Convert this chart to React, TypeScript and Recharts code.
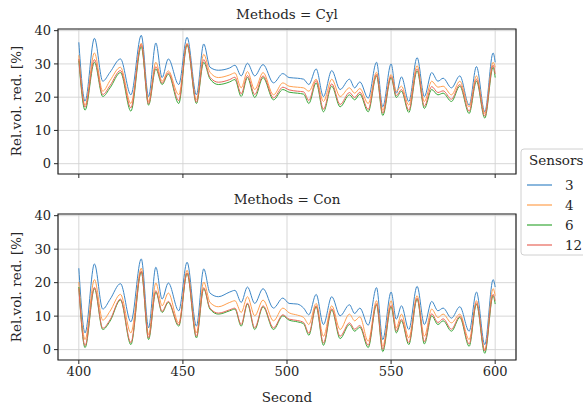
import { CartesianGrid, Line, LineChart, ReferenceArea, XAxis, YAxis } from "recharts";

const FONT = "'DejaVu Serif', 'Liberation Serif', serif";
const INK = "#262626";

const seconds = [
  400, 403, 407.5, 411.5, 415, 420, 425, 430, 433.5, 437, 440, 443, 448, 452, 456.5, 460, 463, 467,
  472.5, 475, 478, 481, 484.5, 488.5, 493.5, 498, 501, 505, 508, 510.5, 514, 517.5, 521.5, 525.5,
  530, 532.5, 535, 539, 543, 546, 550, 552.5, 555, 558.5, 562.5, 566, 569.5, 572.5, 575, 579, 583,
  587.5, 591, 595, 599, 600,
];

// Methods = Cyl
const cyl3 = [
  36.5, 18.8, 37.7, 24.8, 27.5, 31.5, 20.7, 38.6, 20.2, 36.3, 25.9, 31.5, 23.8, 38, 20.7, 36, 29,
  28.1, 28.8, 29.6, 26.4, 30.2, 26.4, 29.8, 24.3, 27.1, 25.9, 25.7, 25.4, 23.8, 28.5, 20.2, 28, 22.3,
  25.4, 22.8, 24.6, 19.7, 30.5, 17.1, 30, 21.2, 26.1, 18.7, 31.9, 20.2, 27.4, 24.8, 25.7, 22.8, 26.4,
  17.6, 29.2, 15.6, 33.3, 30.5,
];
const cyl4 = [
  32.6, 17.6, 33.3, 21.8, 25, 29, 18.1, 36.2, 18.7, 30.5, 24.8, 27.9, 20.7, 36.2, 19.2, 32.9, 27.5,
  25.9, 26.7, 27.3, 22.8, 27.7, 22.3, 27.4, 20.7, 24.3, 23.3, 23, 22.8, 21.8, 25.4, 18.7, 25.4, 20.2,
  22.8, 21.2, 22.6, 18.1, 27.5, 16.1, 26.8, 21.8, 23.3, 17.6, 29.5, 18.7, 24.8, 23, 23.3, 20.7, 24.8,
  17.1, 26.4, 15.1, 30.5, 29,
];
const cyl6 = [
  31, 16.1, 30.5, 20.2, 22.8, 27.4, 15.8, 35.2, 17.6, 28.5, 23.8, 26.9, 18.1, 35.7, 18.1, 30.5, 25.5,
  23.8, 24.6, 25.3, 20.2, 25.9, 19.9, 25.9, 19.2, 22.3, 21.5, 21.2, 20.9, 18.1, 24.3, 15.6, 23.3,
  17.1, 20.7, 19.2, 20.9, 15.6, 26.4, 14.5, 25.9, 19.9, 21.8, 15.4, 27.9, 16.6, 22.3, 20.7, 21.2,
  18.7, 23.3, 15.1, 24.8, 13.7, 29, 25.9,
];
const cyl12 = [
  31.5, 17, 31.3, 20.8, 23.5, 28, 16.8, 35.8, 18, 29.2, 24.2, 27.3, 19, 36, 18.5, 31.3, 26, 24.5,
  25.3, 26, 21, 26.5, 20.8, 26.4, 19.8, 23, 22.2, 21.8, 21.6, 19, 25, 16.4, 24, 17.8, 21.4, 19.9,
  21.5, 16.3, 26.8, 15.2, 26.2, 20.5, 22.3, 16.1, 28.5, 17.3, 23.2, 21.4, 21.9, 19.4, 23.8, 15.8,
  25.4, 14.3, 29.6, 27,
];

// Methods = Con
const con3 = [
  24.3, 5, 25.6, 12.1, 15, 19.7, 8.3, 27.1, 6.5, 24.6, 15.1, 19.9, 11.6, 26.1, 7, 24.1, 16.9, 15.8,
  17.2, 17.7, 14.1, 18.7, 13.8, 18.2, 12.4, 15.4, 13.8, 13.6, 12.4, 10.4, 16.5, 7.5, 15.8, 10.1,
  13.4, 10.8, 12.4, 7.3, 18.5, 3, 17.2, 9.1, 13.1, 6, 18.9, 7.5, 14.4, 11.6, 12.4, 9.4, 12.8, 5.5,
  17.2, 1.5, 20.9, 18.7,
];
const con4 = [
  20.2, 3, 20.9, 8.8, 11.5, 16.5, 5, 24.3, 4.5, 19.9, 13.1, 16.9, 8, 23.7, 5, 20.2, 14.1, 12.8, 14.1,
  14.6, 11.1, 15.8, 10.1, 14.8, 8.6, 12.4, 11, 10.3, 9.6, 7.5, 13.8, 4, 13.1, 6, 10.6, 8.6, 9.8, 2.5,
  14.6, 1, 14.6, 6.5, 10.6, 3.5, 16.1, 4, 12.1, 9.6, 10.6, 8, 10.6, 3, 14.6, -0.1, 18.2, 16.1,
];
const con6 = [
  18.7, 0.6, 18.2, 6, 8.5, 14.8, 1.5, 23.2, 3, 17.2, 11.1, 14.1, 7, 22.7, 3.5, 18.2, 12.1, 10.6,
  11.6, 12.1, 7, 13.6, 6, 12.8, 6, 10.1, 8.8, 8.3, 7.7, 4.3, 12.8, 1.3, 11.8, 3.3, 7.5, 5.5, 6.7,
  0.6, 13.4, -0.6, 12.8, 5, 8.6, 1.5, 15.1, 1.7, 10.1, 7.5, 8.6, 5.5, 9.6, 1, 13.6, -1.1, 16.1, 13.6,
];
const con12 = [
  18.3, 1.2, 18.6, 6.4, 8.9, 15.1, 2.1, 23.4, 3.5, 17.6, 11.4, 14.4, 7.4, 22.9, 4, 18.5, 12.4, 10.9,
  11.9, 12.4, 7.5, 13.9, 6.5, 13.1, 6.5, 10.4, 9.1, 8.7, 8.1, 4.9, 13.1, 2, 12.2, 4, 8, 6.1, 7.2,
  1.3, 13.7, 0.1, 13.2, 5.6, 9.1, 2.1, 15.4, 2.4, 10.7, 8.1, 9.2, 6.1, 10, 1.7, 14, -0.4, 16.5, 14.6,
];

const sensors = ["3", "4", "6", "12"];
const colors = ["#3d87c7", "#ffa04f", "#3aa83a", "#e8675a"];
const xTicks = [400, 450, 500, 550, 600];
const yTicks = [0, 10, 20, 30, 40];

const cylRows = seconds.map((t, i) => ({ t, s3: cyl3[i], s4: cyl4[i], s6: cyl6[i], s12: cyl12[i] }));
const conRows = seconds.map((t, i) => ({ t, s3: con3[i], s4: con4[i], s6: con6[i], s12: con12[i] }));

const tickStyle = { fontFamily: FONT, fontSize: 13, fill: INK };

function Panel({ data, top, height, labels }: { data: any[]; top: number; height: number; labels: boolean }) {
  return (
    <div style={{ position: "absolute", left: 0, top }}>
      <LineChart width={583} height={height} data={data} margin={{ top: 29, right: 67, bottom: 0, left: 0 }}>
        <CartesianGrid stroke="#d2d2d2" strokeWidth={0.9} />
        <XAxis
          dataKey="t"
          type="number"
          domain={[390, 610]}
          ticks={xTicks}
          height={labels ? 30 : 16}
          axisLine={false}
          tickSize={4}
          tickMargin={3}
          tickLine={{ stroke: INK }}
          tick={tickStyle}
          tickFormatter={(v) => (labels ? String(v) : "")}
        />
        <YAxis
          type="number"
          domain={[-3.1, 40.5]}
          ticks={yTicks}
          width={58}
          axisLine={false}
          tickSize={4}
          tickMargin={3}
          tickLine={{ stroke: INK }}
          tick={tickStyle}
        />
        <ReferenceArea x1={390} x2={610} y1={-3.1} y2={40.5} fill="none" stroke={INK} strokeWidth={1.2} />
        {sensors.map((s, i) => (
          <Line
            key={s}
            dataKey={"s" + s}
            type="monotone"
            stroke={colors[i]}
            strokeWidth={1}
            dot={false}
            isAnimationActive={false}
          />
        ))}
      </LineChart>
    </div>
  );
}

export default function App() {
  return (
    <div style={{ position: "absolute", left: 0, top: 0, width: 583, height: 410, background: "#fff" }}>
      <Panel data={cylRows} top={0} height={190} labels={false} />
      <Panel data={conRows} top={185} height={205} labels={true} />
      <svg width={583} height={410} style={{ position: "absolute", left: 0, top: 0, pointerEvents: "none" }}>
        <g fontFamily={FONT} fill={INK} fontSize={13.5}>
          <text x={287} y={19} textAnchor="middle">Methods = Cyl</text>
          <text x={287} y={204} textAnchor="middle">Methods = Con</text>
          <text x={287} y={402} textAnchor="middle">Second</text>
          <text transform="translate(21,101) rotate(-90)" textAnchor="middle">Rel.vol. red. [%]</text>
          <text transform="translate(21,287) rotate(-90)" textAnchor="middle">Rel.vol. red. [%]</text>
        </g>
        <rect x={521} y={149} width={80} height={106} rx={3} fill="#fff" stroke="#d0d0d0" />
        <text x={529} y={165} fontFamily={FONT} fontSize={13.5} fill={INK}>Sensors</text>
        {sensors.map((s, i) => (
          <g key={s}>
            <line x1={527} x2={552} y1={185 + i * 20} y2={185 + i * 20} stroke={colors[i]} strokeWidth={1.2} />
            <text x={565} y={190 + i * 20} fontFamily={FONT} fontSize={13.5} fill={INK}>{s}</text>
          </g>
        ))}
      </svg>
    </div>
  );
}
